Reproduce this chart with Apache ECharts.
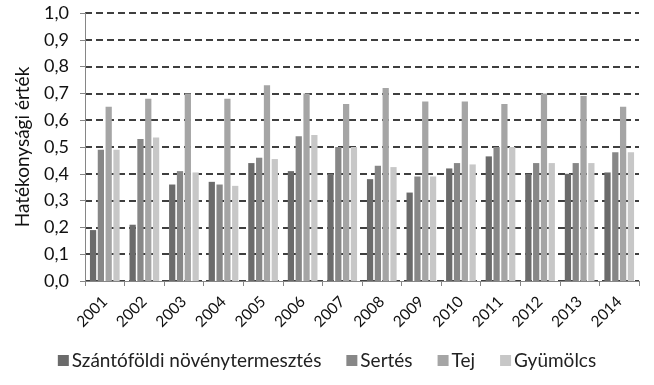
<!DOCTYPE html>
<html><head><meta charset="utf-8">
<script src="https://cdn.jsdelivr.net/npm/echarts@6/dist/echarts.min.js"></script>
<style>html,body{margin:0;padding:0;background:#fff}#c{width:654px;height:385px}</style>
</head><body><div id="c"></div>
<script>
const years = ['2001','2002','2003','2004','2005','2006','2007','2008','2009','2010','2011','2012','2013','2014'];
const seriesNames = ['Szántóföldi növénytermesztés','Sertés','Tej','Gyümölcs'];
const szantofoldi = [0.19,0.21,0.36,0.37,0.44,0.41,0.40,0.38,0.33,0.42,0.465,0.40,0.40,0.405];
const sertes      = [0.49,0.53,0.41,0.36,0.46,0.54,0.50,0.43,0.39,0.44,0.50,0.44,0.44,0.48];
const tej         = [0.65,0.68,0.70,0.68,0.73,0.70,0.66,0.72,0.67,0.67,0.66,0.70,0.69,0.65];
const gyumolcs    = [0.49,0.535,0.405,0.355,0.455,0.545,0.50,0.425,0.39,0.435,0.50,0.44,0.44,0.48];
const yTicks = [0,0.1,0.2,0.3,0.4,0.5,0.6,0.7,0.8,0.9,1.0];
const colors = ['#6b6b6b','#878787','#a5a5a5','#c7c7c7'];
const font = 'Lato, "Open Sans", sans-serif';
const dataSets = [szantofoldi, sertes, tej, gyumolcs];

const chart = echarts.init(document.getElementById('c'), null, {renderer:'canvas'});
chart.setOption({
  animation:false,
  color: colors,
  grid:{left:85,right:15,top:13,bottom:104,containLabel:false},
  legend:{
    bottom:10, left:'center', itemWidth:11, itemHeight:11, itemGap:25, icon:'rect',
    textStyle:{fontFamily:font,fontSize:19,color:'#222',padding:[0,0,0,-2]},
    data: seriesNames
  },
  xAxis:{
    type:'category', data: years,
    axisLine:{lineStyle:{color:'#868686',width:1}},
    axisTick:{show:true,alignWithLabel:false,length:5,lineStyle:{color:'#868686'}},
    axisLabel:{rotate:45,margin:18,fontFamily:font,fontSize:15.5,color:'#111'}
  },
  yAxis:{
    type:'value', min:0, max:1, interval:0.1,
    name:'Hatékonysági érték', nameLocation:'middle', nameGap:53,
    nameTextStyle:{fontFamily:font,fontSize:19,color:'#111'},
    axisLine:{show:true,lineStyle:{color:'#868686',width:1}},
    axisTick:{show:true,length:5,lineStyle:{color:'#868686'}},
    axisLabel:{fontFamily:font,fontSize:18,color:'#111',margin:16,
      formatter:v=>v.toFixed(1).replace('.',',')},
    splitLine:{show:true,lineStyle:{color:'#000',width:1.6,type:[7,4]}}
  },
  series: seriesNames.map((n,i)=>({
    name:n, type:'bar', data:dataSets[i],
    barGap:'25%', barCategoryGap:'25%',
    itemStyle:{color:colors[i]}
  }))
});
</script></body></html>
